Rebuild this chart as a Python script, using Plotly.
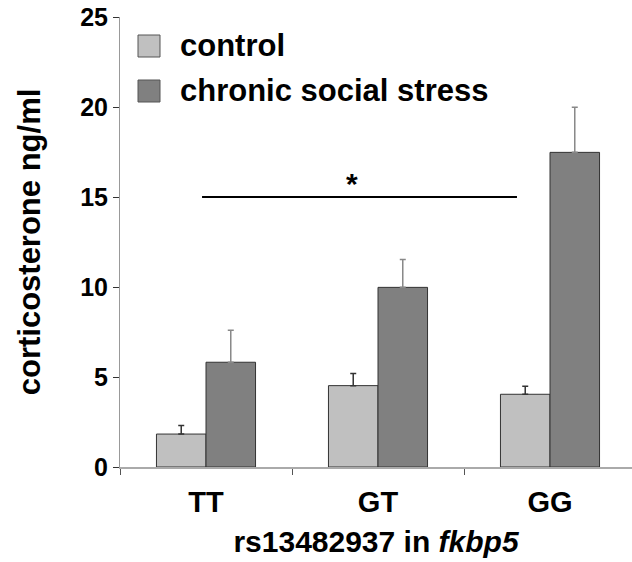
import plotly.graph_objects as go

categories = ["TT", "GT", "GG"]
control = [1.83, 4.52, 4.04]
control_err = [0.47, 0.68, 0.45]
stress = [5.82, 9.98, 17.48]
stress_err = [1.78, 1.55, 2.5]
series_names = ["control", "chronic social stress"]
y_ticks = [0, 5, 10, 15, 20, 25]
sig_y = 15

FONT = "Liberation Sans, Arial, sans-serif"
C_CTRL = "#c0c0c0"
C_STRESS = "#808080"

W, H = 632, 562
ML, MT, MB = 120, 17, 95
PW, PH = W - ML, H - MT - MB

fig = go.Figure()
fig.add_trace(go.Bar(
    x=categories, y=control, name=series_names[0],
    marker=dict(color=C_CTRL, line=dict(color="#333333", width=1)),
    error_y=dict(type="data", symmetric=False, array=control_err,
                 arrayminus=[0] * len(control_err),
                 color="#333333", thickness=1.5, width=3),
    showlegend=False,
))
fig.add_trace(go.Bar(
    x=categories, y=stress, name=series_names[1],
    marker=dict(color=C_STRESS, line=dict(color="#333333", width=1)),
    error_y=dict(type="data", symmetric=False, array=stress_err,
                 arrayminus=[0] * len(stress_err),
                 color="#888888", thickness=1.5, width=3),
    showlegend=False,
))

# significance bar
fig.add_shape(type="line", xref="x", yref="y", x0=-0.023, x1=1.808,
              y0=sig_y, y1=sig_y, line=dict(color="black", width=2))
fig.add_annotation(x=0.849, y=sig_y, xref="x", yref="y", text="<b>*</b>",
                   showarrow=False, yshift=14,
                   font=dict(family=FONT, size=30, color="black"))

# manual legend (positions in pixels from plot top-left)
legend_items = [(series_names[0], C_CTRL, 29), (series_names[1], C_STRESS, 74)]
for name, col, yc in legend_items:
    fig.add_shape(type="rect", xref="paper", yref="paper",
                  x0=18 / PW, x1=40 / PW,
                  y0=1 - (yc + 11) / PH, y1=1 - (yc - 11) / PH,
                  fillcolor=col, line=dict(color="#555555", width=1))
    fig.add_annotation(xref="paper", yref="paper",
                       x=58 / PW, y=1 - yc / PH,
                       xanchor="left", yanchor="middle", showarrow=False,
                       text="<b>%s</b>" % name,
                       font=dict(family=FONT, size=31, color="black"))

fig.update_layout(
    width=W, height=H,
    margin=dict(l=ML, r=0, t=MT, b=MB, autoexpand=False),
    paper_bgcolor="white", plot_bgcolor="white",
    barmode="group", bargap=0.424, bargroupgap=0,
    font=dict(family=FONT, color="black"),
    xaxis=dict(
        range=[-0.5, -0.5 + PW / 172],
        showline=True, linecolor="#aaaaaa", linewidth=2,
        ticks="outside", tickson="boundaries", ticklen=6, tickcolor="#555555",
        tickfont=dict(family=FONT, size=29, color="black"),
        tickvals=categories, ticktext=["<b>%s</b>" % c for c in categories],
        ticklabelstandoff=8, ticklabeloverflow="allow",
        title=dict(text="<b>rs13482937 in <i>fkbp5</i></b>",
                   font=dict(family=FONT, size=30, color="black"),
                   standoff=14),
        showgrid=False, zeroline=False,
    ),
    yaxis=dict(
        range=[0, 25],
        showline=True, linecolor="#999999", linewidth=1,
        ticks="outside", ticklen=6, tickcolor="#333333",
        tickvals=y_ticks, ticktext=["<b>%d</b>" % v for v in y_ticks],
        tickfont=dict(family=FONT, size=25, color="black"),
        ticklabeloverflow="allow",
        title=dict(text="<b>corticosterone ng/ml</b>",
                   font=dict(family=FONT, size=31, color="black"),
                   standoff=30),
        showgrid=False, zeroline=False,
    ),
)

fig.write_html(
    "out.html",
    config={"displayModeBar": False},
    post_script="document.body.style.margin='0';document.body.style.overflow='hidden';",
)
